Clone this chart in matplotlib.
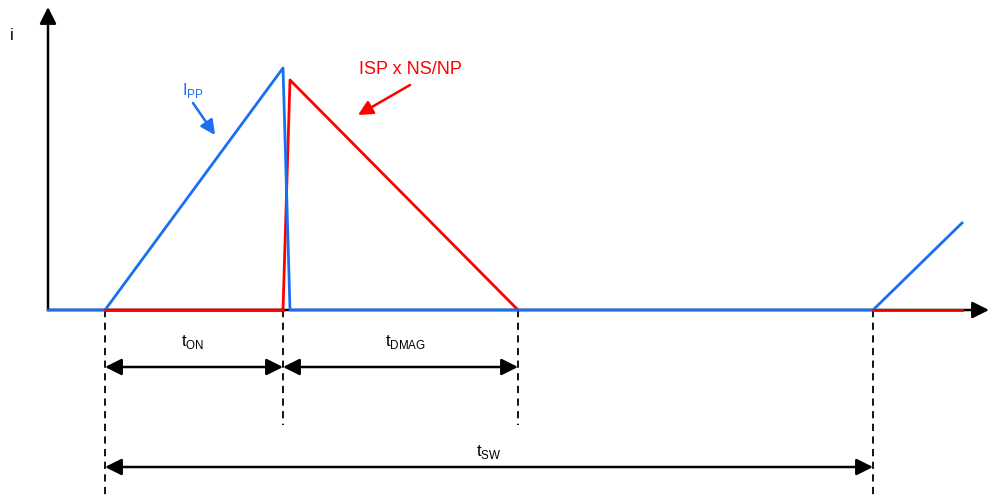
import numpy as np
import matplotlib
matplotlib.use('Agg')
import matplotlib.pyplot as plt

plt.rcParams['font.family'] = 'Liberation Sans'
plt.rcParams['mathtext.fontset'] = 'custom'
plt.rcParams['mathtext.rm'] = 'Liberation Sans'

# switching waveform (time, current) in arbitrary units
t_start = 0.57
t_on_end = 2.35
t_fall = 2.42
t_dmag_end = 4.70
t_sw_end = 8.25
t_last = 9.14

blue_t = [0, t_start, t_on_end, t_fall, t_sw_end, t_last]
blue_i = [0, 0, 2.42, 0, 0, 0.87]

red_t = [t_start, t_on_end, t_fall, t_dmag_end]
red_i = [0, 0, 2.30, 0]
red_tail_t = [t_sw_end, t_last]
red_tail_i = [0, 0]

blue = '#1a6ff0'
red = '#ff0000'

fig = plt.figure(figsize=(9.89, 4.95), dpi=100)
ax = fig.add_axes([0, 0, 1, 1])
ax.set_xlim(-0.48, 9.41)
ax.set_ylim(-1.85, 3.10)
ax.axis('off')

# axes arrows
ax.annotate('', xy=(0, 3.03), xytext=(0, 0),
            arrowprops=dict(arrowstyle='-|>', color='black', lw=1.8, mutation_scale=25, shrinkA=0, shrinkB=0))
ax.annotate('', xy=(9.41, 0), xytext=(0, 0),
            arrowprops=dict(arrowstyle='-|>', color='black', lw=1.8, mutation_scale=25, shrinkA=0, shrinkB=0))
ax.text(-0.36, 2.75, 'i', fontsize=12, ha='center', va='center')

# waveforms
ax.plot(blue_t, blue_i, color=blue, lw=2.0, zorder=3)
ax.plot(red_t, red_i, color=red, lw=2.0, zorder=2.5)
ax.plot(red_tail_t, red_tail_i, color=red, lw=2.0, zorder=3)
# red over blue on the on-time baseline
ax.plot([t_start, t_on_end], [0, 0], color=red, lw=2.0, zorder=3.5)

# dashed markers
ax.plot([t_start, t_start], [0, -1.85], color='black', ls=(0, (4, 3)), lw=1.3)
ax.plot([t_on_end, t_on_end], [0, -1.15], color='black', ls=(0, (4, 3)), lw=1.3)
ax.plot([t_dmag_end, t_dmag_end], [0, -1.15], color='black', ls=(0, (4, 3)), lw=1.3)
ax.plot([t_sw_end, t_sw_end], [0, -1.85], color='black', ls=(0, (4, 3)), lw=1.3)

# dimension arrows
dim = dict(arrowstyle='<|-|>', color='black', lw=1.8, mutation_scale=25, shrinkA=0, shrinkB=0)
ax.annotate('', xy=(t_on_end, -0.57), xytext=(t_start, -0.57), arrowprops=dim)
ax.annotate('', xy=(t_dmag_end, -0.57), xytext=(t_on_end, -0.57), arrowprops=dim)
ax.annotate('', xy=(t_sw_end, -1.57), xytext=(t_start, -1.57), arrowprops=dim)

ax.text(1.45, -0.32, r't$_{\mathrm{ON}}$', fontsize=12, ha='center', va='center')
ax.text(3.57, -0.32, r't$_{\mathrm{DMAG}}$', fontsize=12, ha='center', va='center')
ax.text(4.41, -1.42, r't$_{\mathrm{SW}}$', fontsize=12, ha='center', va='center')

# labels with pointers
ax.text(1.45, 2.20, r'I$_{\mathrm{PP}}$', fontsize=12, color=blue, ha='center', va='center')
ax.annotate('', xy=(1.67, 1.75), xytext=(1.45, 2.07),
            arrowprops=dict(arrowstyle='-|>', color=blue, lw=1.8, mutation_scale=22, shrinkA=0, shrinkB=0))
ax.text(3.62, 2.40, 'ISP x NS/NP', fontsize=13, color=red, ha='center', va='center')
ax.annotate('', xy=(3.10, 1.95), xytext=(3.62, 2.25),
            arrowprops=dict(arrowstyle='-|>', color=red, lw=1.8, mutation_scale=22, shrinkA=0, shrinkB=0))

fig.savefig('out.png', dpi=100)
